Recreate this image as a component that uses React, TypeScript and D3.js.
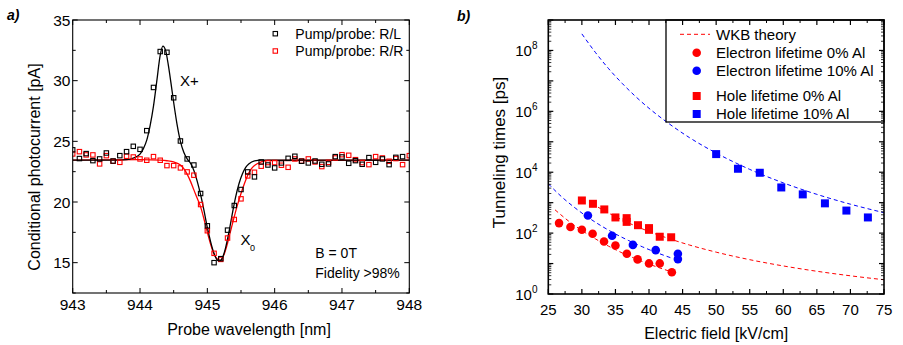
import React from "react";
import * as d3 from "d3";

// ---------- Panel a data ----------
const waveA = [943.0,943.1,943.2,943.3,943.4,943.5,943.6,943.7,943.8,943.9,944.0,944.1,944.2,944.3,944.4,944.5,944.6,944.7,944.8,944.9,945.0,945.1,945.2,945.3,945.4,945.5,945.6,945.7,945.8,945.9,946.0,946.1,946.2,946.3,946.4,946.5,946.6,946.7,946.8,946.9,947.0,947.1,947.2,947.3,947.4,947.5,947.6,947.7,947.8,947.9];
const rlValues = [24.3,23.58,23.99,23.41,23.55,24.04,23.38,23.82,24.15,24.59,24.34,25.88,29.44,32.4,32.34,28.59,25.03,23.55,23.05,20.7,18.04,15.0,15.33,17.68,19.71,21.03,22.48,22.07,23.3,23.05,22.81,23.22,23.6,23.77,23.36,23.22,23.38,23.11,23.14,23.74,23.71,23.19,23.41,23.11,23.66,23.27,23.55,23.08,23.68,23.74];
const waveRR = [943.0,943.1,943.2,943.3,943.4,943.5,943.6,943.7,943.8,943.9,944.0,944.1,944.2,944.3,944.4,944.5,944.6,944.7,944.8,944.9,945.0,945.1,945.2,945.3,945.4,945.5,945.6,945.7,945.8,945.9,946.0,946.1,946.2,946.3,946.4,946.5,946.6,946.7,946.8,946.9,947.0,947.1,947.2,947.3,947.4,947.5,947.6,947.7,947.8,947.9,948.0];
const rrValues = [23.96,24.15,23.88,23.88,23.14,23.82,23.36,23.27,23.77,23.71,23.55,23.44,23.74,23.44,23.0,23.0,22.81,22.48,22.21,19.79,17.63,15.77,15.27,17.03,18.56,20.26,22.15,22.45,22.95,23.25,23.25,23.03,22.86,23.55,23.38,23.55,23.3,22.92,23.27,23.63,23.9,23.85,23.49,23.25,23.08,23.74,23.63,23.36,23.58,23.08,23.82];

const rlFitX = [943.0,943.6,943.8,943.9,944.0,944.05,944.1,944.15,944.2,944.25,944.3,944.34,944.38,944.42,944.46,944.5,944.55,944.6,944.65,944.7,944.75,944.8,944.85,944.9,944.95,945.0,945.05,945.1,945.15,945.18,945.22,945.27,945.32,945.37,945.42,945.47,945.52,945.57,945.62,945.7,945.8,948.0];
const rlFitY = [23.45,23.45,23.5,23.62,23.95,24.4,25.1,26.3,27.9,30.0,32.1,32.85,32.5,31.3,29.8,28.2,26.4,25.0,24.1,23.55,23.2,22.6,21.7,20.6,19.3,17.9,16.7,15.75,15.2,15.12,15.35,16.2,17.5,19.0,20.4,21.5,22.3,22.85,23.15,23.38,23.45,23.45];
const rrFitX = [943.0,944.0,944.3,944.4,944.5,944.6,944.65,944.7,944.75,944.8,944.85,944.9,944.95,945.0,945.05,945.1,945.15,945.2,945.25,945.3,945.35,945.4,945.45,945.5,945.55,945.6,945.65,945.7,945.8,945.9,948.0];
const rrFitY = [23.45,23.5,23.45,23.4,23.3,23.05,22.75,22.3,21.7,21.0,20.3,19.6,18.6,17.5,16.5,15.7,15.3,15.2,15.7,16.6,17.7,18.8,19.8,20.7,21.5,22.2,22.7,23.0,23.3,23.42,23.45];

const xTicksA = [943, 944, 945, 946, 947, 948];
const yTicksA = [15, 20, 25, 30, 35];

// ---------- Panel b data ----------
const e0Field = [26.6,28.3,30.0,31.6,33.3,35.0,36.7,38.3,40.0,41.6,43.4];
const e0Time = [213,158,129,95,53,39,21,13.7,10.1,10.1,5.2];
const e10Field = [30.9,34.5,37.6,41.0,44.3,44.3];
const e10Time = [380,82,41,27.6,21,14];
const h0Field = [30.0,31.65,33.34,35.0,36.67,36.67,38.36,40.0,40.0,41.6,43.3];
const h0Time = [1180,918,600,327,310,234,182,146,128,76,73];
const h10Field = [50.0,53.25,56.5,59.7,62.9,66.2,69.4,72.6];
const h10Time = [39400,13000,9600,3160,1870,950,550,327];

const wkbE0Field = [26,28,30,32,34,36,38,40,42,44];
const wkbE0Time = [583,251,122,65,37,22.4,14.4,9.6,6.7,4.8];
const wkbH0Field = [31.5,33,35,37,40,43,46,50,55,60,65,70,75];
const wkbH0Time = [938,597,348,214,113,65.8,40.8,23.7,13.4,8.35,5.58,3.96,2.94];
const wkbE10Field = [25,27,29,31,33,35,37,39,41,43.5];
const wkbE10Time = [4170,1550,670,320,167,94,56.5,35.6,23.5,14.8];
const wkbH10Field = [30,32,34,36,38,40,43,46,50,55,60,65,70,75];
const wkbH10Time = [3.5e8,8.7e7,2.5e7,8.3e6,3.07e6,1.26e6,3.9e5,1.38e5,4.27e4,1.24e4,4470,1875,891,468];

const xTicksB = [25,30,35,40,45,50,55,60,65,70,75];
const yLabelExpB = [0,2,4,6,8];
const legendB = ["WKB theory","Electron lifetime 0% Al","Electron lifetime 10% Al","Hole lifetime 0% Al","Hole lifetime 10% Al"];

const FONT = "'Liberation Sans', Arial, Helvetica, sans-serif";
const RED = "#ff0000";
const BLUE = "#0000ff";

export default function App() {
  // Panel a scales
  const xA = d3.scaleLinear().domain([943, 948]).range([72.7, 409.3]);
  const yA = d3.scaleLinear().domain([12.5, 35]).range([293, 20]);
  // Panel b scales
  const xB = d3.scaleLinear().domain([25, 75]).range([548.3, 884]);
  const yB = d3.scaleLog().domain([1, 1e9]).range([294, 20]);

  const lineA = (xs: number[], ys: number[]) =>
    d3.line<number>().x((_, i) => xA(xs[i])).y((_, i) => yA(ys[i])).curve(d3.curveMonotoneX)(xs) || "";
  const lineB = (xs: number[], ys: number[]) =>
    d3.line<number>().x((_, i) => xB(xs[i])).y((_, i) => yB(ys[i])).curve(d3.curveMonotoneX)(xs) || "";

  const [ax0, ax1] = xA.range();
  const [ay0, ay1] = yA.range(); // bottom, top
  const [bx0, bx1] = xB.range();
  const [by0, by1] = yB.range();

  const xMinorA = d3.range(943.5, 948, 1);
  const yMinorA = d3.range(12.5, 35, 5);
  const xMinorB = d3.range(27.5, 75, 5);
  const yMajorB = d3.range(0, 10).map((e) => Math.pow(10, e));
  const yMinorB: number[] = [];
  for (let e = 0; e < 9; e++) for (let k = 2; k <= 9; k++) yMinorB.push(k * Math.pow(10, e));

  const sqA = 4.4;
  const sqB = 8;

  return (
    <svg width={903} height={345} style={{ position: "absolute", left: 0, top: 0 }} fontFamily={FONT}>
      <rect x={0} y={0} width={903} height={345} fill="#fff" />

      {/* ================= Panel a ================= */}
      <text x={7} y={20} fontSize={14} fontWeight="bold" fontStyle="italic">a)</text>
      <clipPath id="clipA">
        <rect x={ax0} y={ay1} width={ax1 - ax0} height={ay0 - ay1} />
      </clipPath>
      <g clipPath="url(#clipA)">
        <path d={lineA(rrFitX, rrFitY)} fill="none" stroke={RED} strokeWidth={1.3} />
        <path d={lineA(rlFitX, rlFitY)} fill="none" stroke="#000" strokeWidth={1.3} />
        {waveRR.map((w, i) => (
          <rect key={"rr" + i} x={xA(w) - sqA / 2} y={yA(rrValues[i]) - sqA / 2} width={sqA} height={sqA} fill="none" stroke={RED} strokeWidth={1.1} />
        ))}
        {waveA.map((w, i) => (
          <rect key={"rl" + i} x={xA(w) - sqA / 2} y={yA(rlValues[i]) - sqA / 2} width={sqA} height={sqA} fill="none" stroke="#000" strokeWidth={1.1} />
        ))}
      </g>
      <rect x={ax0} y={ay1} width={ax1 - ax0} height={ay0 - ay1} fill="none" stroke="#000" strokeWidth={1.1} />
      {xTicksA.map((t) => (
        <g key={"xa" + t}>
          <line x1={xA(t)} x2={xA(t)} y1={ay0} y2={ay0 - 5} stroke="#000" />
          <line x1={xA(t)} x2={xA(t)} y1={ay1} y2={ay1 + 5} stroke="#000" />
          <text x={xA(t)} y={310} fontSize={15.5} textAnchor="middle">{t}</text>
        </g>
      ))}
      {xMinorA.map((t) => (
        <g key={"xma" + t}>
          <line x1={xA(t)} x2={xA(t)} y1={ay0} y2={ay0 - 3} stroke="#000" />
          <line x1={xA(t)} x2={xA(t)} y1={ay1} y2={ay1 + 3} stroke="#000" />
        </g>
      ))}
      {yTicksA.map((t) => (
        <g key={"ya" + t}>
          <line x1={ax0} x2={ax0 + 5} y1={yA(t)} y2={yA(t)} stroke="#000" />
          <line x1={ax1} x2={ax1 - 5} y1={yA(t)} y2={yA(t)} stroke="#000" />
          <text x={70.5} y={yA(t) + 5.5} fontSize={15.5} textAnchor="end">{t}</text>
        </g>
      ))}
      {yMinorA.map((t) => (
        <g key={"yma" + t}>
          <line x1={ax0} x2={ax0 + 3} y1={yA(t)} y2={yA(t)} stroke="#000" />
          <line x1={ax1} x2={ax1 - 3} y1={yA(t)} y2={yA(t)} stroke="#000" />
        </g>
      ))}
      <text x={249} y={335} fontSize={16} textAnchor="middle">Probe wavelength [nm]</text>
      <text transform="translate(39.5,167) rotate(-90)" fontSize={16} textAnchor="middle">Conditional photocurrent [pA]</text>
      {/* legend a */}
      <rect x={275.3 - sqA / 2} y={33.7 - sqA / 2} width={sqA} height={sqA} fill="none" stroke="#000" strokeWidth={1.1} />
      <text x={295.3} y={38.7} fontSize={14}>Pump/probe: R/L</text>
      <rect x={275.3 - sqA / 2} y={51 - sqA / 2} width={sqA} height={sqA} fill="none" stroke={RED} strokeWidth={1.1} />
      <text x={295.3} y={56} fontSize={14}>Pump/probe: R/R</text>
      {/* annotations */}
      <text x={180} y={86} fontSize={15}>X+</text>
      <text x={240.5} y={245} fontSize={15}>X</text>
      <text x={250} y={250.5} fontSize={9}>0</text>
      <text x={315.3} y={258.3} fontSize={14}>B = 0T</text>
      <text x={315.3} y={278.3} fontSize={14}>Fidelity &gt;98%</text>

      {/* ================= Panel b ================= */}
      <text x={457} y={21} fontSize={14} fontWeight="bold" fontStyle="italic">b)</text>
      <clipPath id="clipB">
        <rect x={bx0} y={by1} width={bx1 - bx0} height={by0 - by1} />
      </clipPath>
      <g clipPath="url(#clipB)">
        <path d={lineB(wkbE0Field, wkbE0Time)} fill="none" stroke={RED} strokeWidth={1} strokeDasharray="4,3" />
        <path d={lineB(wkbH0Field, wkbH0Time)} fill="none" stroke={RED} strokeWidth={1} strokeDasharray="4,3" />
        <path d={lineB(wkbE10Field, wkbE10Time)} fill="none" stroke={BLUE} strokeWidth={1} strokeDasharray="4,3" />
        <path d={lineB(wkbH10Field, wkbH10Time)} fill="none" stroke={BLUE} strokeWidth={1} strokeDasharray="4,3" />
        {h0Field.map((f, i) => (
          <rect key={"h0" + i} x={xB(f) - sqB / 2} y={yB(h0Time[i]) - sqB / 2} width={sqB} height={sqB} fill={RED} />
        ))}
        {h10Field.map((f, i) => (
          <rect key={"h10" + i} x={xB(f) - sqB / 2} y={yB(h10Time[i]) - sqB / 2} width={sqB} height={sqB} fill={BLUE} />
        ))}
        {e0Field.map((f, i) => (
          <circle key={"e0" + i} cx={xB(f)} cy={yB(e0Time[i])} r={4.3} fill={RED} />
        ))}
        {e10Field.map((f, i) => (
          <circle key={"e10" + i} cx={xB(f)} cy={yB(e10Time[i])} r={4.3} fill={BLUE} />
        ))}
      </g>
      {/* legend b */}
      <rect x={666} y={by1} width={bx1 - 666} height={122 - by1} fill="#fff" stroke="#000" strokeWidth={1.3} />
      <line x1={680} x2={710} y1={34.3} y2={34.3} stroke={RED} strokeWidth={1} strokeDasharray="4,3" />
      <circle cx={696.7} cy={52.7} r={4.3} fill={RED} />
      <circle cx={696.7} cy={70.7} r={4.3} fill={BLUE} />
      <rect x={696.7 - sqB / 2} y={96 - sqB / 2} width={sqB} height={sqB} fill={RED} />
      <rect x={696.7 - sqB / 2} y={114 - sqB / 2} width={sqB} height={sqB} fill={BLUE} />
      {legendB.map((s, i) => (
        <text key={"lb" + i} x={716} y={[39.5, 58, 76, 101.3, 119.3][i]} fontSize={15}>{s}</text>
      ))}
      <rect x={bx0} y={by1} width={bx1 - bx0} height={by0 - by1} fill="none" stroke="#000" strokeWidth={1.6} />
      {xTicksB.map((t) => (
        <g key={"xb" + t}>
          <line x1={xB(t)} x2={xB(t)} y1={by0} y2={by0 - 5} stroke="#000" strokeWidth={1.2} />
          <line x1={xB(t)} x2={xB(t)} y1={by1} y2={by1 + 5} stroke="#000" strokeWidth={1.2} />
          <text x={xB(t)} y={315} fontSize={15} textAnchor="middle">{t}</text>
        </g>
      ))}
      {xMinorB.map((t) => (
        <g key={"xmb" + t}>
          <line x1={xB(t)} x2={xB(t)} y1={by0} y2={by0 - 3} stroke="#000" />
          <line x1={xB(t)} x2={xB(t)} y1={by1} y2={by1 + 3} stroke="#000" />
        </g>
      ))}
      {yMajorB.map((t, i) => (
        <g key={"yb" + i}>
          <line x1={bx0} x2={bx0 + 5} y1={yB(t)} y2={yB(t)} stroke="#000" strokeWidth={1.2} />
          <line x1={bx1} x2={bx1 - 5} y1={yB(t)} y2={yB(t)} stroke="#000" strokeWidth={1.2} />
        </g>
      ))}
      {yMinorB.map((t, i) => (
        <g key={"ymb" + i}>
          <line x1={bx0} x2={bx0 + 3} y1={yB(t)} y2={yB(t)} stroke="#000" strokeWidth={0.8} />
          <line x1={bx1} x2={bx1 - 3} y1={yB(t)} y2={yB(t)} stroke="#000" strokeWidth={0.8} />
        </g>
      ))}
      {yLabelExpB.map((e) => (
        <text key={"ylb" + e} x={537.5} y={yB(Math.pow(10, e)) + 5.5} fontSize={15} textAnchor="end">
          10<tspan dy={-7} fontSize={10}>{e}</tspan>
        </text>
      ))}
      <text x={716.2} y={339} fontSize={16} textAnchor="middle">Electric field [kV/cm]</text>
      <text transform="translate(504.5,152.5) rotate(-90)" fontSize={17} textAnchor="middle">Tunneling times [ps]</text>
    </svg>
  );
}
